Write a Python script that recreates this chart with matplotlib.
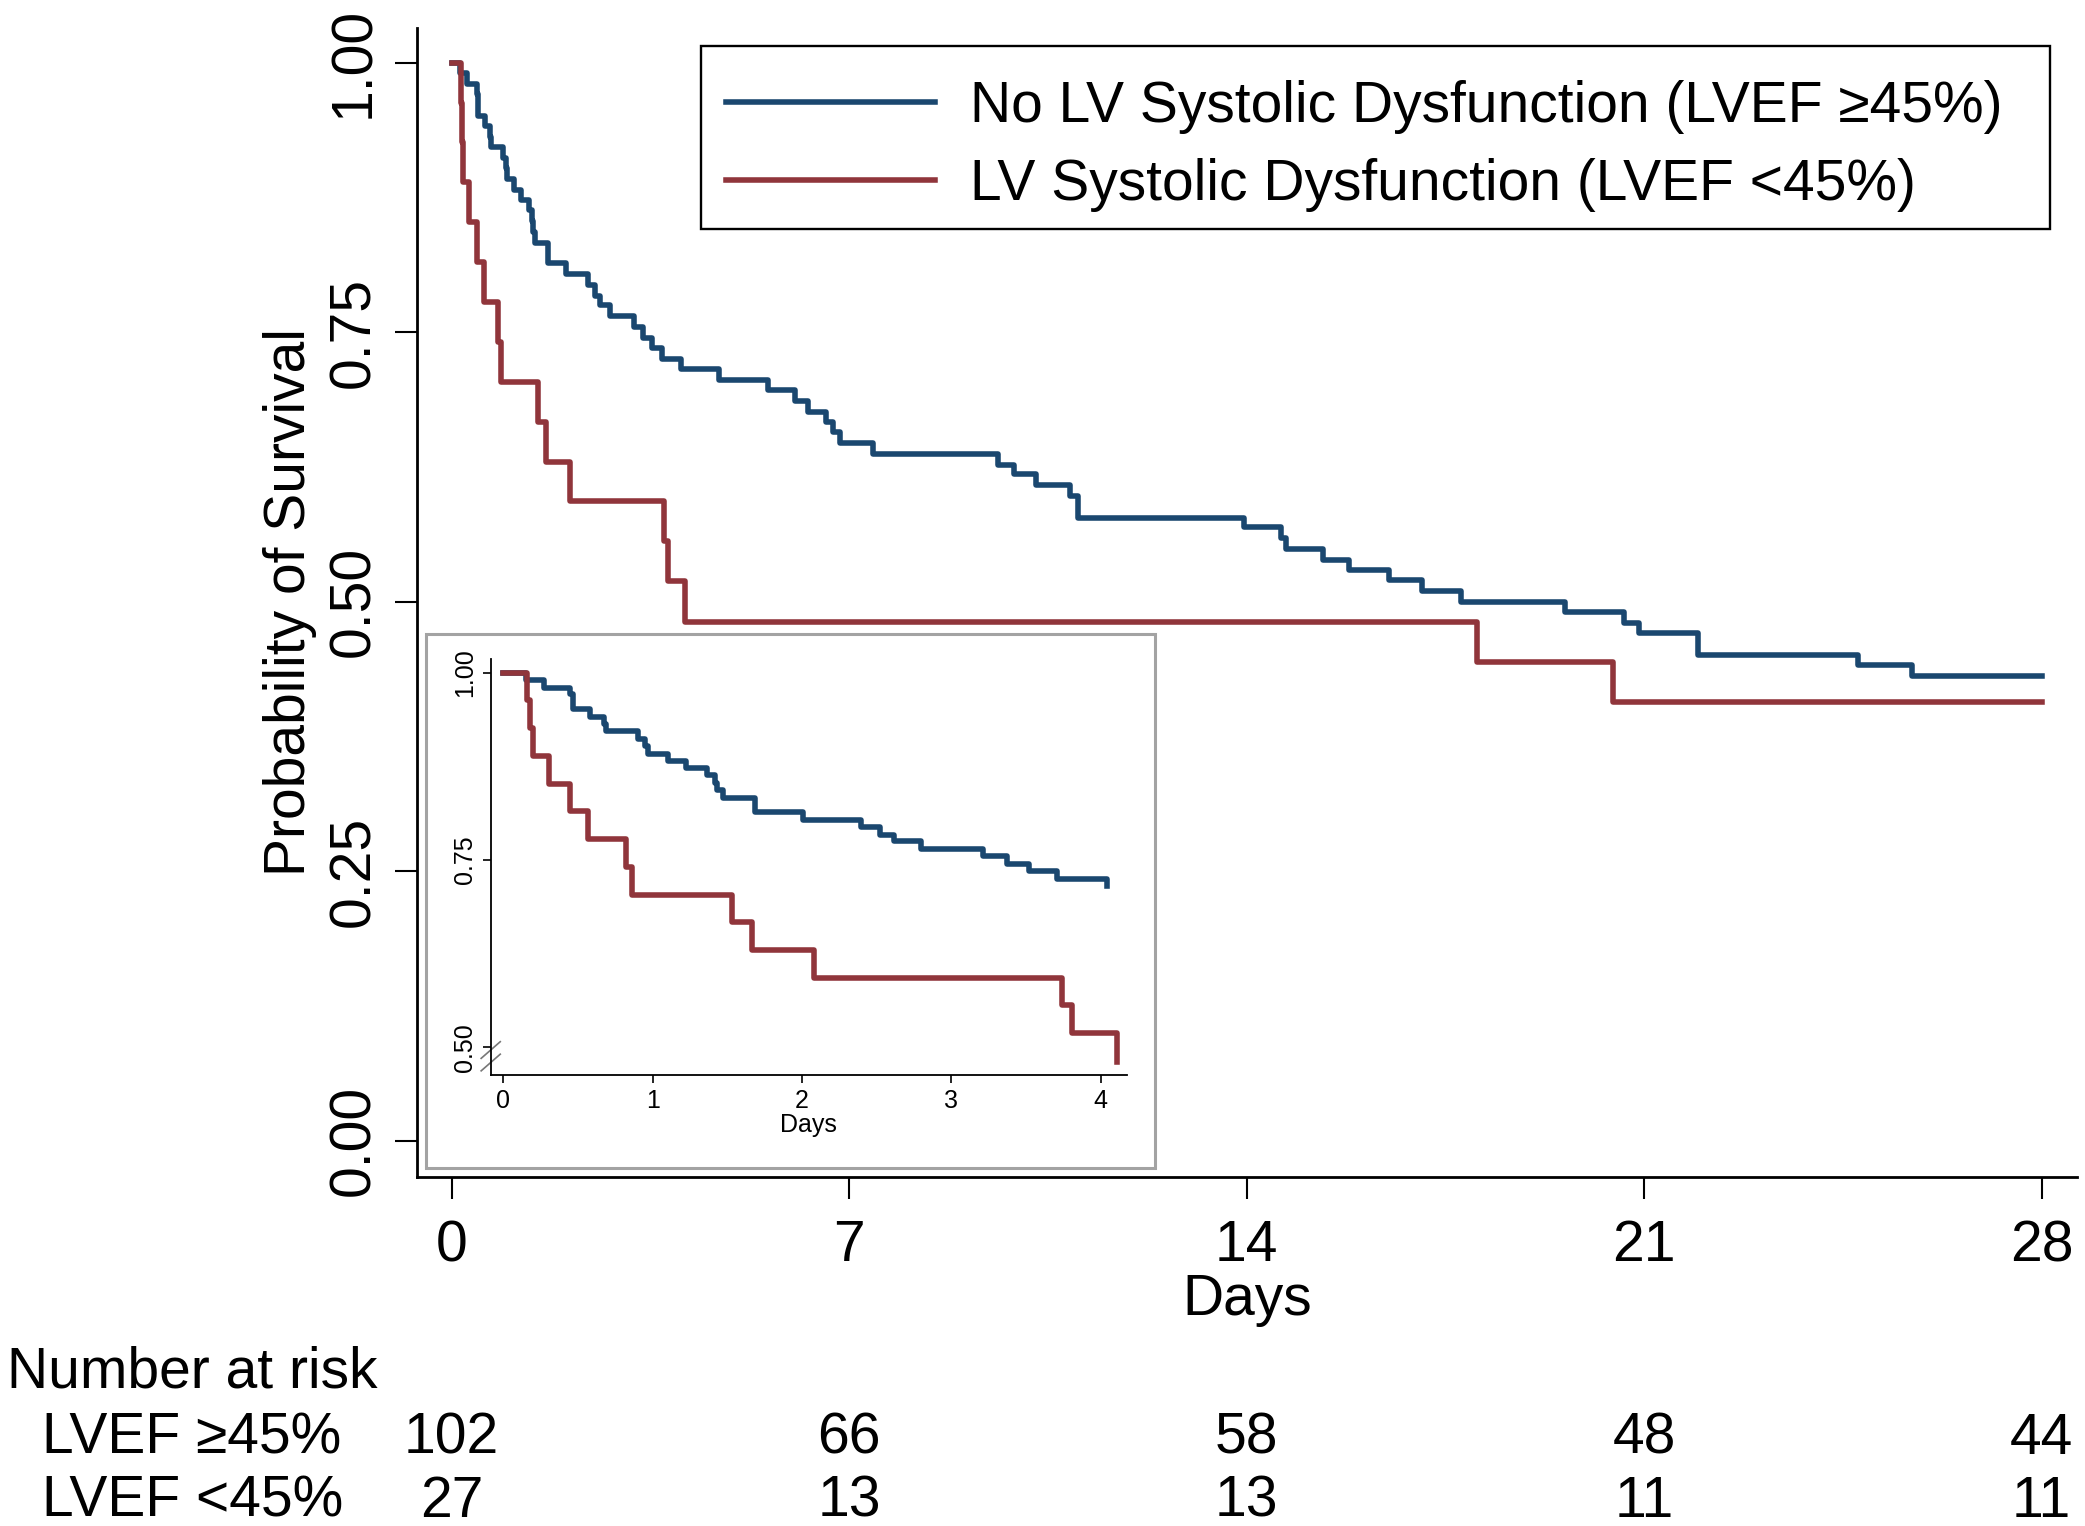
import matplotlib

matplotlib.use("Agg")
import matplotlib.pyplot as plt
from matplotlib.patches import Rectangle
from matplotlib.transforms import blended_transform_factory

plt.rcParams["font.family"] = ["Liberation Sans", "DejaVu Sans"]

# Kaplan-Meier steps (event day, survival after the event)
blue_days = [0, 0.15, 0.27, 0.445, 0.47, 0.583, 0.672, 0.689, 0.903, 0.951, 0.967,
             1.105, 1.223, 1.367, 1.416, 1.432, 1.47, 1.688, 2.008, 2.392, 2.52,
             2.617, 2.793, 3.209, 3.369, 3.52, 3.705, 4.04, 4.71, 5.57, 6.05, 6.28,
             6.59, 6.71, 6.83, 7.42, 9.62, 9.9, 10.29, 10.88, 11.03, 13.96, 14.6,
             14.7, 15.34, 15.81, 16.5, 17.08, 17.78, 19.6, 20.65, 20.9, 21.95,
             24.77, 25.71]
blue_surv = [1.000, 0.990, 0.980, 0.971, 0.951, 0.941, 0.931, 0.922, 0.912, 0.902,
             0.892, 0.882, 0.873, 0.863, 0.853, 0.843, 0.833, 0.814, 0.804, 0.794,
             0.784, 0.775, 0.765, 0.755, 0.745, 0.735, 0.725, 0.716, 0.706, 0.696,
             0.686, 0.676, 0.667, 0.657, 0.647, 0.637, 0.627, 0.618, 0.608, 0.598,
             0.578, 0.569, 0.559, 0.549, 0.539, 0.529, 0.520, 0.510, 0.500, 0.490,
             0.480, 0.471, 0.451, 0.441, 0.431]

red_days = [0, 0.157, 0.176, 0.199, 0.304, 0.445, 0.567, 0.823, 0.861, 1.528, 1.662,
            2.078, 3.737, 3.808, 4.106, 18.05, 20.45]
red_surv = [1.000, 0.963, 0.926, 0.889, 0.852, 0.815, 0.778, 0.741, 0.704, 0.667,
            0.630, 0.593, 0.556, 0.519, 0.481, 0.444, 0.407]

followup_end = 28.0
inset_end = 4.11

labels = ["No LV Systolic Dysfunction (LVEF \u226545%)", "LV Systolic Dysfunction (LVEF <45%)"]
risk_groups = ["LVEF \u226545%", "LVEF <45%"]
risk_days = [0, 7, 14, 21, 28]
risk_blue = [102, 66, 58, 48, 44]
risk_red = [27, 13, 13, 11, 11]

y_ticks = [0.00, 0.25, 0.50, 0.75, 1.00]
inset_y_ticks = [0.50, 0.75, 1.00]
inset_x_ticks = [0, 1, 2, 3, 4]

BLUE = "#1a476f"
RED = "#90353b"
FS = 41
LW = 4.0
W, H = 2085, 1526

fig = plt.figure(figsize=(W / 100, H / 100), dpi=100)
ax = fig.add_axes([0.19986, 0.22890, 0.79616, 0.75256])

ax.step(blue_days + [followup_end], blue_surv + [blue_surv[-1]], where="post",
        color=BLUE, lw=LW, label=labels[0])
ax.step(red_days + [followup_end], red_surv + [red_surv[-1]], where="post",
        color=RED, lw=LW, label=labels[1])

ax.set_xlim(-0.616, 28.616)
ax.set_ylim(-0.0334, 1.0319)
ax.set_xticks(risk_days)
ax.set_yticks(y_ticks)
ax.set_yticklabels([f"{v:.2f}" for v in y_ticks], rotation=90, va="center")
ax.tick_params(axis="both", labelsize=FS, length=15.8, width=1.5)
ax.tick_params(axis="x", pad=15)
ax.tick_params(axis="y", pad=10)
for side in ("top", "right"):
    ax.spines[side].set_visible(False)
for side in ("left", "bottom"):
    ax.spines[side].set_linewidth(2)

ax.set_xlabel("Days", fontsize=FS)
ax.xaxis.label.set_va("baseline")
ax.xaxis.set_label_coords(0.5, -0.1204)
ax.set_ylabel("Probability of Survival", fontsize=FS)
ax.yaxis.label.set(rotation_mode="anchor", va="baseline", ha="center")
ax.yaxis.set_label_coords(-0.0673, 0.5)

# legend (frame drawn separately so it can match the box size)
leg = ax.legend(loc="upper left", bbox_to_anchor=(700.6 / W, 1 - 55 / H),
                bbox_transform=fig.transFigure, borderaxespad=0, frameon=False,
                fontsize=FS, handlelength=3.68, handletextpad=0.61, borderpad=0.44,
                labelspacing=0.42)
for line in leg.get_lines():
    line.set_linewidth(LW)
fig.patches.append(Rectangle((700.6 / W, 1 - 229 / H), 1349.4 / W, 183 / H,
                             transform=fig.transFigure, fill=False,
                             edgecolor="black", lw=1.7, zorder=3))

# inset frame + zoomed first days
fig.patches.append(Rectangle((425.5 / W, 1 - 1168 / H), 729.5 / W, 534 / H,
                             transform=fig.transFigure, facecolor="white",
                             edgecolor="#a3a3a3", lw=2.2, zorder=1))
ax_in = fig.add_axes([0.23535, 0.29554, 0.30518, 0.27281])
ax_in.set_zorder(2)
ax_in.patch.set_alpha(0)
bt = [d for d in blue_days if d <= inset_end]
rt = [d for d in red_days if d <= inset_end]
ax_in.step(bt, blue_surv[:len(bt)], where="post", color=BLUE, lw=LW)
ax_in.step(rt, red_surv[:len(rt)], where="post", color=RED, lw=LW)
ax_in.set_xlim(-0.084, 4.175)
ax_in.set_ylim(0.4631, 1.0187)
ax_in.set_xticks(inset_x_ticks)
ax_in.set_yticks(inset_y_ticks)
ax_in.set_yticklabels([f"{v:.2f}" for v in inset_y_ticks], rotation=90, va="center")
ax_in.tick_params(axis="both", labelsize=18, length=6, width=1.2, pad=4)
for side in ("top", "right"):
    ax_in.spines[side].set_visible(False)
for side in ("left", "bottom"):
    ax_in.spines[side].set_linewidth(1.3)
ax_in.set_xlabel("Days", fontsize=18, labelpad=0)
for dy in (0.0, 0.03):
    ax_in.plot([-0.015, 0.015], [0.01 + dy, 0.05 + dy], transform=ax_in.transAxes,
               color="#777777", lw=1.2, clip_on=False)

# number at risk table
fig.text(6.6 / W, 1 - 1388 / H, "Number at risk", fontsize=FS, va="baseline")
row_y = [1 - 1454 / H, 1 - 1516.7 / H]
trans = blended_transform_factory(ax.transData, fig.transFigure)
for group, counts, y in zip(risk_groups, [risk_blue, risk_red], row_y):
    fig.text(42.5 / W, y, group, fontsize=FS, va="baseline")
    for d, n in zip(risk_days, counts):
        ax.text(d, y, str(n), transform=trans, fontsize=FS, ha="center", va="baseline",
                clip_on=False)

fig.savefig("out.png", dpi=100)
